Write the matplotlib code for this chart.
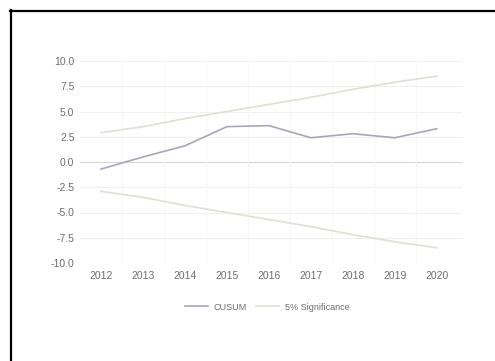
import matplotlib
matplotlib.use("Agg")
import matplotlib.pyplot as plt
from matplotlib.lines import Line2D

years = [2012, 2013, 2014, 2015, 2016, 2017, 2018, 2019, 2020]
cusum = [-0.7, 0.5, 1.6, 3.5, 3.6, 2.4, 2.8, 2.4, 3.3]
upper = [2.9, 3.5, 4.3, 5.0, 5.7, 6.4, 7.2, 7.9, 8.5]
lower = [-2.9, -3.5, -4.3, -5.0, -5.7, -6.4, -7.2, -7.9, -8.5]
yticks = [10.0, 7.5, 5.0, 2.5, 0.0, -2.5, -5.0, -7.5, -10.0]

plt.rcParams['font.family'] = ['Liberation Sans', 'DejaVu Sans']

fig = plt.figure(figsize=(4.95, 3.61), dpi=100)
fig.patch.set_facecolor('white')
ax = fig.add_axes([80/495, 1-263/361, (462-80)/495, (263-61)/361])

c_cusum = '#a3a9b8'
c_sig = '#e0dfd2'
ax.plot(years, cusum, color=c_cusum, lw=1.2, label='CUSUM', zorder=3)
ax.plot(years, upper, color=c_sig, lw=1.2, label='5% Significance', zorder=3)
ax.plot(years, lower, color=c_sig, lw=1.2, zorder=3)

ax.set_xlim(2011.5, 2020.6)
ax.set_ylim(-10, 10)
ax.set_yticks(yticks)
ax.set_yticklabels([f"{v:.1f}" for v in yticks])
ax.set_xticks(years)
ax.set_xticklabels([str(y) for y in years])
ax.tick_params(axis='both', length=0, labelsize=7.5, labelcolor='#6e6e6e')
ax.tick_params(axis='x', pad=6)
ax.tick_params(axis='y', pad=4)

for v in yticks:
    ax.axhline(v, color='#d6d6d6' if v == 0 else '#f0f0f0', lw=0.8, zorder=1)
for b in [y + 0.5 for y in years[:-1]]:
    ax.axvline(b, color='#f7f7f7', lw=0.8, zorder=1)
for s in ax.spines.values():
    s.set_visible(False)

handles = [Line2D([0], [0], color=c_cusum, lw=1.2),
           Line2D([0], [0], color=c_sig, lw=1.2)]
fig.legend(handles, ['CUSUM', '5% Significance'], loc='center',
           bbox_to_anchor=(267/495, 1-307/361), ncol=2, frameon=False,
           fontsize=6.5, labelcolor='#6e6e6e', handlelength=2.6,
           columnspacing=1.0, handletextpad=0.6)

# outer frame (left and top black border)
fig.add_artist(Line2D([10.5/495, 10.5/495], [0, 1-10/361], color='black', lw=1.6, transform=fig.transFigure))
fig.add_artist(Line2D([10/495, 1], [1-10.5/361, 1-10.5/361], color='black', lw=1.6, transform=fig.transFigure))

fig.savefig('out.png', dpi=100)
